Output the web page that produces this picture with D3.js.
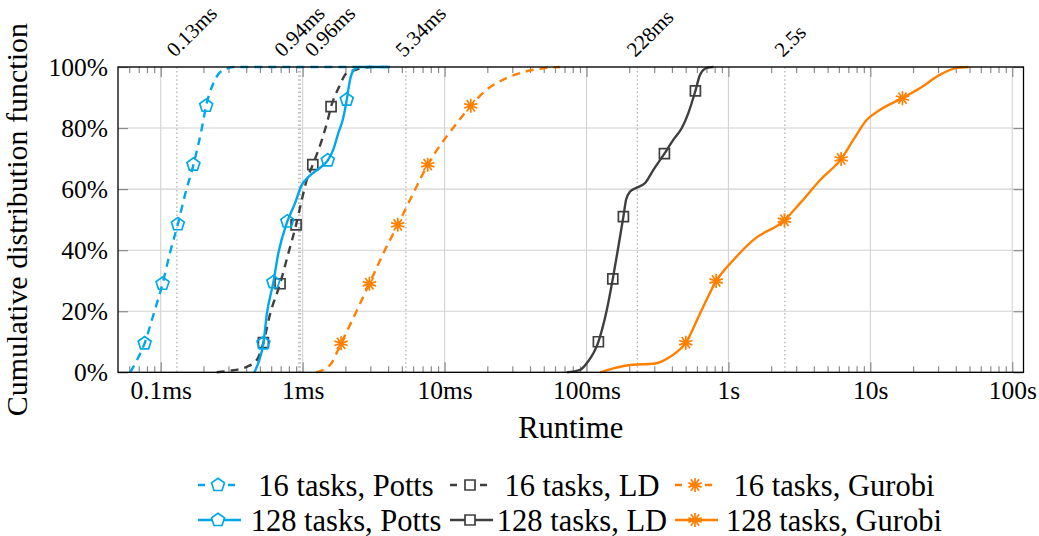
<!DOCTYPE html>
<html>
<head>
<meta charset="utf-8">
<script src="https://cdn.jsdelivr.net/npm/d3@7"></script>
<style>
  html, body { margin: 0; padding: 0; background: #fff; }
  svg text { font-family: "Liberation Serif", "DejaVu Serif", serif !important; fill: #000; }
</style>
</head>
<body>
<svg id="chart" width="1039" height="536" font-family="Liberation Serif, DejaVu Serif, serif"></svg>
<script>
// Runtime CDFs: cumulative share (%) against runtime (ms)
const cdfPotts16 = [0, 4, 9.5, 19, 29, 39, 48.5, 58, 68, 80, 87.3, 94.5, 98.3, 99.6, 100, 100];
const msPotts16  = [0.061, 0.068, 0.077, 0.089, 0.103, 0.116, 0.132, 0.148, 0.170, 0.195, 0.209, 0.234, 0.262, 0.298, 0.334, 4.13];
const markPotts16 = [9.5, 29, 48.5, 68, 87.3];

const cdfLD16 = [0, 0.5, 1.8, 4, 9.7, 19, 29, 39, 48.3, 56.5, 63, 68, 76, 82.7, 87, 93, 98, 99, 99.7, 100];
const msLD16  = [0.248, 0.308, 0.404, 0.475, 0.529, 0.589, 0.693, 0.793, 0.899, 0.986, 1.069, 1.179, 1.363, 1.503, 1.586, 1.785, 2.046, 2.340, 2.609, 2.985];
const markLD16 = [9.7, 29, 48.3, 68, 87];

const cdfGurobi16 = [0, 2.4, 9.5, 19, 29, 39, 48.3, 58.7, 68, 77.3, 81.6, 87.3, 92.6, 96.4, 99.1, 100];
const msGurobi16  = [1.243, 1.560, 1.865, 2.340, 2.952, 3.704, 4.680, 6.028, 7.611, 10.36, 12.19, 15.29, 19.84, 27.44, 42.25, 65.14];
const markGurobi16 = [9.5, 29, 48.3, 68, 87.3];

const cdfPotts128 = [0, 4, 9.5, 19, 29.5, 39, 49.4, 55.4, 61.4, 64, 67, 69.4, 73, 78.4, 82.7, 89.3, 95.8, 99.1, 100, 100];
const msPotts128  = [0.457, 0.495, 0.529, 0.559, 0.622, 0.674, 0.780, 0.884, 0.986, 1.097, 1.327, 1.503, 1.646, 1.785, 1.917, 2.046, 2.158, 2.302, 2.538, 4.13];
const markPotts128 = [9.5, 29.5, 49.4, 69.4, 89.3];

const cdfLD128 = [0, 0.8, 3, 10, 20.4, 30.6, 41.2, 51, 56.5, 59.2, 60.5, 62, 66.3, 71.6, 76.2, 80, 85, 92.2, 97.5, 99.7, 100];
const msLD128  = [72.6, 90.1, 100.5, 121.3, 139.0, 153.2, 167.8, 182.0, 190.1, 202.9, 226.2, 258.8, 296.1, 354.0, 409.7, 469.4, 522.6, 585.4, 631.8, 704.4, 784.3];
const markLD128 = [10, 30.6, 51, 71.6, 92.2];

const cdfGurobi128 = [0, 1.3, 2.4, 2.9, 5.1, 9.7, 19.3, 29.9, 36.8, 43.4, 49.8, 55.4, 63, 69.9, 76.2, 82.7, 86, 89.8, 93.1, 97.5, 99.7, 100];
const msGurobi128  = [124.7, 154.7, 202.9, 304.4, 388.4, 501.0, 631.8, 819.3, 1085, 1501, 2481, 3202, 4429, 6227, 7602, 9447, 11730, 16840, 22440, 31040, 40700, 49130];
const markGurobi128 = [9.7, 29.9, 49.8, 69.9, 89.8];

// Median runtimes marked with dotted lines
const medianMs     = [0.13, 0.94, 0.96, 5.34, 228, 2500];
const medianLabels = ["0.13ms", "0.94ms", "0.96ms", "5.34ms", "228ms", "2.5s"];

// Axis ticks
const xMajor = [0.1, 1, 10, 100, 1000, 10000, 100000];
const xMajorLabels = ["0.1ms", "1ms", "10ms", "100ms", "1s", "10s", "100s"];
const yTicks = [0, 20, 40, 60, 80, 100];

const legendLabels = ["16 tasks, Potts", "16 tasks, LD", "16 tasks, Gurobi",
                      "128 tasks, Potts", "128 tasks, LD", "128 tasks, Gurobi"];

// ---- layout -------------------------------------------------------------
const FONT = "Liberation Serif, DejaVu Serif, serif";
const plot = { left: 118, right: 1023.5, top: 67, bottom: 372.3 };
const x = d3.scaleLog().domain([0.05, 120000]).range([plot.left, plot.right]);
const y = d3.scaleLinear().domain([0, 100]).range([plot.bottom, plot.top]);

const CYAN = "#00a8e8", GRAY = "#3f3f3f", ORANGE = "#ff7f00";
const DASH = "8,6";

const series = [
  { cdf: cdfPotts16,   ms: msPotts16,   marks: markPotts16,   color: CYAN,   dash: DASH, mark: "pentagon" },
  { cdf: cdfLD16,      ms: msLD16,      marks: markLD16,      color: GRAY,   dash: DASH, mark: "square" },
  { cdf: cdfGurobi16,  ms: msGurobi16,  marks: markGurobi16,  color: ORANGE, dash: DASH, mark: "star" },
  { cdf: cdfPotts128,  ms: msPotts128,  marks: markPotts128,  color: CYAN,   dash: null, mark: "pentagon" },
  { cdf: cdfLD128,     ms: msLD128,     marks: markLD128,     color: GRAY,   dash: null, mark: "square" },
  { cdf: cdfGurobi128, ms: msGurobi128, marks: markGurobi128, color: ORANGE, dash: null, mark: "star" }
];

const svg = d3.select("#chart");

// minor ticks 2..9 per decade inside the domain
const xMinor = [];
for (let e = -2; e <= 5; e++) {
  for (let k = 2; k <= 9; k++) {
    const v = +(k * Math.pow(10, e)).toPrecision(6);
    if (v > 0.0501 && v < 120000) xMinor.push(v);
  }
}

// ---- grid ---------------------------------------------------------------
const grid = svg.append("g").attr("stroke", "#d2d2d2").attr("stroke-width", 1.1);
grid.selectAll("line.v").data(xMajor).join("line")
  .attr("x1", d => x(d)).attr("x2", d => x(d))
  .attr("y1", plot.top).attr("y2", plot.bottom);
grid.selectAll("line.h").data(yTicks).join("line")
  .attr("x1", plot.left).attr("x2", plot.right)
  .attr("y1", d => y(d)).attr("y2", d => y(d));

// ---- median markers ------------------------------------------------------
const med = svg.append("g");
med.selectAll("line").data(medianMs).join("line")
  .attr("x1", d => x(d)).attr("x2", d => x(d))
  .attr("y1", plot.top).attr("y2", plot.bottom)
  .attr("stroke", "#ababab").attr("stroke-width", 1.2)
  .attr("stroke-dasharray", "1.5,2.6");

// shift labels apart where two medians sit nearly on top of each other
const medShift = medianMs.map(() => -2);
for (let i = 0; i < medianMs.length - 1; i++) {
  if (x(medianMs[i + 1]) - x(medianMs[i]) < 12) {
    medShift[i] = -16;
    medShift[i + 1] = 13;
  }
}
med.selectAll("text").data(medianLabels).join("text")
  .attr("transform", (d, i) => `translate(${x(medianMs[i]) + medShift[i]},58) rotate(-45)`)
  .attr("font-family", FONT)
  .attr("font-size", 21)
  .text(d => d);

// ---- axes ticks ------------------------------------------------------------
function styleAxis(g) {
  g.attr("font-family", FONT);
  g.select(".domain").remove();
  g.selectAll(".tick line").attr("stroke", "#8c8c8c").attr("stroke-width", 1.2);
  g.selectAll("text").attr("font-size", 25.5).attr("fill", "#000").attr("font-family", FONT);
}

svg.append("g").attr("transform", `translate(0,${plot.bottom})`)
  .call(d3.axisBottom(x).tickValues(xMajor).tickFormat((d, i) => xMajorLabels[i])
        .tickSizeInner(-10).tickSizeOuter(0).tickPadding(9))
  .call(styleAxis);
svg.append("g").attr("transform", `translate(0,${plot.bottom})`)
  .call(d3.axisBottom(x).tickValues(xMinor).tickFormat("").tickSizeInner(-6).tickSizeOuter(0))
  .call(styleAxis);
svg.append("g").attr("transform", `translate(0,${plot.top})`)
  .call(d3.axisTop(x).tickValues(xMajor).tickFormat("").tickSizeInner(-10).tickSizeOuter(0))
  .call(styleAxis);
svg.append("g").attr("transform", `translate(0,${plot.top})`)
  .call(d3.axisTop(x).tickValues(xMinor).tickFormat("").tickSizeInner(-6).tickSizeOuter(0))
  .call(styleAxis);
svg.append("g").attr("transform", `translate(${plot.left},0)`)
  .call(d3.axisLeft(y).tickValues(yTicks).tickFormat(d => d + "%")
        .tickSizeInner(-10).tickSizeOuter(0).tickPadding(10))
  .call(styleAxis);
svg.append("g").attr("transform", `translate(${plot.right},0)`)
  .call(d3.axisRight(y).tickValues(yTicks).tickFormat("").tickSizeInner(-10).tickSizeOuter(0))
  .call(styleAxis);

// ---- marker shapes ------------------------------------------------------
function markerPath(kind) {
  if (kind === "pentagon") {
    const r = 6.8;
    const pts = d3.range(5).map(k => {
      const a = -Math.PI / 2 + k * 2 * Math.PI / 5;
      return [r * Math.cos(a), r * Math.sin(a)];
    });
    return "M" + pts.map(p => p.join(",")).join("L") + "Z";
  }
  if (kind === "square") {
    const s = 5;
    return `M${-s},${-s}H${s}V${s}H${-s}Z`;
  }
  const r = 7;
  return d3.range(5).map(k => {
    const a = -Math.PI / 2 + k * Math.PI / 5;
    return `M${-r * Math.cos(a)},${-r * Math.sin(a)}L${r * Math.cos(a)},${r * Math.sin(a)}`;
  }).join("");
}

// runtime at a given cumulative share, interpolated on the log axis
function msAt(s, p) {
  for (let i = 0; i < s.cdf.length - 1; i++) {
    const a = s.cdf[i], b = s.cdf[i + 1];
    if (b > a && p >= a && p <= b) {
      const t = (p - a) / (b - a);
      return Math.exp(Math.log(s.ms[i]) + t * (Math.log(s.ms[i + 1]) - Math.log(s.ms[i])));
    }
  }
  return s.ms[s.ms.length - 1];
}

// ---- curves -----------------------------------------------------------------
const line = d3.line().x(d => x(d[0])).y(d => y(d[1])).curve(d3.curveMonotoneX);

const curves = svg.append("g");
series.forEach(s => {
  const pts = s.ms.map((m, i) => [m, s.cdf[i]]);
  curves.append("path")
    .attr("d", line(pts))
    .attr("fill", "none")
    .attr("stroke", s.color)
    .attr("stroke-width", 2.4)
    .attr("stroke-dasharray", s.dash)
    .attr("stroke-linejoin", "round");
  curves.selectAll(null).data(s.marks).join("path")
    .attr("transform", p => `translate(${x(msAt(s, p))},${y(p)})`)
    .attr("d", markerPath(s.mark))
    .attr("fill", "none")
    .attr("stroke", s.color)
    .attr("stroke-width", 1.7)
    .attr("stroke-linejoin", "miter");
});

// ---- frame -------------------------------------------------------------------
svg.append("rect")
  .attr("x", plot.left).attr("y", plot.top)
  .attr("width", plot.right - plot.left).attr("height", plot.bottom - plot.top)
  .attr("fill", "none").attr("stroke", "#000").attr("stroke-width", 1.3);

// ---- axis titles ----------------------------------------------------------
svg.append("text")
  .attr("x", (plot.left + plot.right) / 2).attr("y", 438)
  .attr("text-anchor", "middle").attr("font-size", 30.5).attr("font-family", FONT)
  .text("Runtime");
svg.append("text")
  .attr("transform", `translate(27,${(plot.top + plot.bottom) / 2}) rotate(-90)`)
  .attr("text-anchor", "middle").attr("font-size", 30).attr("font-family", FONT)
  .text("Cumulative distribution function");

// ---- legend -------------------------------------------------------------------
const legCols = [198, 450, 675];
const legTextCenter = [346, 582, 834];
const legRows = [485, 520];
const legend = svg.append("g");
series.forEach((s, i) => {
  const col = i % 3, row = Math.floor(i / 3);
  const x0 = legCols[col], yy = legRows[row];
  legend.append("line")
    .attr("x1", x0).attr("x2", x0 + (s.dash ? 40 : 43)).attr("y1", yy).attr("y2", yy)
    .attr("stroke", s.color).attr("stroke-width", 2.4)
    .attr("stroke-dasharray", s.dash ? "7,8" : null);
  legend.append("path")
    .attr("transform", `translate(${x0 + 20},${yy})`)
    .attr("d", markerPath(s.mark))
    .attr("fill", "#fff").attr("stroke", s.color).attr("stroke-width", 1.7);
  legend.append("text")
    .attr("x", legTextCenter[col]).attr("y", yy + 10.5)
    .attr("text-anchor", "middle").attr("font-size", 30.5).attr("font-family", FONT)
    .text(legendLabels[i]);
});
</script>
</body>
</html>
